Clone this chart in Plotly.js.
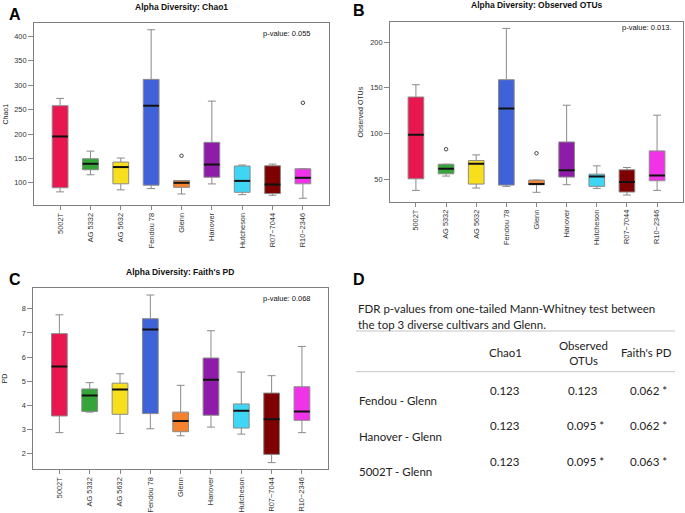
<!DOCTYPE html>
<html><head><meta charset="utf-8">
<script src="https://cdn.plot.ly/plotly-3.0.1.min.js"></script>
<style>html,body{margin:0;padding:0;background:#fff}#chart{width:685px;height:513px}</style>
</head><body><div id="chart"></div>
<script>
// ---------- data ----------
const cultivars = ['5002T','AG 5332','AG 5632','Fendou 78','Glenn','Hanover','Hutcheson','R07\u22127044','R10\u22122346'];
const colors = ['#E8174F','#35A53A','#F7DF1E','#4062D8','#F5822E','#8E1CA8','#3FD6F5','#7F0000','#F032E8'];

// Chao1
const chaoLow  = [81.5, 116.5, 85.6, 88.3, 77.2, 97.8, 75.8, 74.6, 68.4];
const chaoQ1   = [90, 126.8, 98, 95.2, 90.8, 111.5, 80.6, 78, 98];
const chaoMed  = [195, 139, 132.3, 258, 100, 137.5, 104, 96.6, 110.3];
const chaoQ3   = [258, 149.4, 142.6, 312, 104.7, 183, 134.5, 135, 128.8];
const chaoHigh = [273, 165, 150.8, 413.7, 104.7, 267.4, 136.5, 138.4, 128.8];
const chaoOutCultivar = ['Glenn','R10\u22122346'];
const chaoOutValue    = [155.5, 264];
const chaoP = 'p-value: 0.055';

// Observed OTUs
const otuLow  = [37.6, 53.3, 40.2, 42, 35.5, 43.8, 39.8, 32.5, 37.6];
const otuQ1   = [50.3, 55.8, 44.5, 43.4, 43.8, 52.2, 42, 35.8, 48.2];
const otuMed  = [98.7, 61.2, 66.7, 127.4, 44.5, 59.8, 52.9, 46.7, 54];
const otuQ3   = [140, 66.3, 70.3, 159, 48.9, 90.7, 55.4, 60.2, 80.9];
const otuHigh = [153.5, 66.3, 76.5, 215.3, 48.9, 131, 64.5, 62.7, 120.1];
const otuOutCultivar = ['AG 5332','Glenn'];
const otuOutValue    = [82.7, 78.3];
const otuP = 'p-value: 0.013.';

// Faith's PD
const pdLow  = [2.87, 3.72, 2.83, 3.03, 2.74, 3.1, 2.81, 1.63, 2.87];
const pdQ1   = [3.56, 3.75, 3.63, 3.66, 2.91, 3.59, 3.06, 1.97, 3.38];
const pdMed  = [5.61, 4.41, 4.66, 7.14, 3.35, 5.06, 3.78, 3.42, 3.75];
const pdQ3   = [6.97, 4.68, 4.92, 7.59, 3.72, 5.96, 4.06, 4.51, 4.77];
const pdHigh = [7.75, 4.94, 5.31, 8.57, 4.83, 7.09, 5.38, 5.23, 6.44];
const pdOutCultivar = [];
const pdOutValue    = [];
const pdP = 'p-value: 0.068';

// tick labels
const chaoTicks = [100, 150, 200, 250, 300, 350, 400];
const otuTicks  = [50, 100, 150, 200];
const pdTicks   = [2, 3, 4, 5, 6, 7, 8];

// Table D
const tableCaption1 = 'FDR p-values from one-tailed Mann-Whitney test between';
const tableCaption2 = 'the top 3 diverse cultivars and Glenn.';
const tableHeaders  = ['Chao1', 'Observed<br>OTUs', "Faith's PD"];
const tableRows     = ['Fendou - Glenn', 'Hanover - Glenn', '5002T - Glenn'];
const tableChao1    = ['0.123', '0.123', '0.123'];
const tableOTUs     = ['0.123', '0.095 *', '0.095 *'];
const tablePD       = ['0.062 *', '0.062 *', '0.063 *'];

// ---------- helpers ----------
const W = 685, H = 513;
const px = x => x / W;
const py = y => 1 - y / H;
const FONT = 'Liberation Sans, Arial, Helvetica, sans-serif';
const TFONT = 'Lato, Open Sans, sans-serif';

const traces = [];
const annotations = [];
const shapes = [];
const layout = {
  width: W, height: H, autosize: false,
  margin: {l: 0, r: 0, t: 0, b: 0},
  paper_bgcolor: '#fff', plot_bgcolor: '#fff',
  showlegend: false, boxmode: 'overlay',
  font: {family: FONT, color: '#222'}
};

const BOXW = 0.52;

function panel(k, low, q1, med, q3, high, outC, outV, ticks, yTitle, title, pText, box, letter, letterPos, titlePos, pPos, yTitleX) {
  const xa = 'x' + (k === 1 ? '' : k), ya = 'y' + (k === 1 ? '' : k);
  const xs = cultivars.map((c, i) => i + 1);
  cultivars.forEach((c, i) => {
    traces.push({
      type: 'box', x: [xs[i]], q1: [q1[i]], median: [med[i]], q3: [q3[i]],
      lowerfence: [low[i]], upperfence: [high[i]],
      fillcolor: colors[i], line: {color: '#8a8a8a', width: 1},
      width: BOXW, whiskerwidth: 0.5, boxpoints: false,
      xaxis: xa, yaxis: ya, hoverinfo: 'skip', name: c
    });
  });
  // medians
  const mx = [], my = [];
  med.forEach((m, i) => { mx.push(xs[i] - BOXW / 2, xs[i] + BOXW / 2, null); my.push(m, m, null); });
  traces.push({type: 'scatter', mode: 'lines', x: mx, y: my, line: {color: '#111', width: 2},
    xaxis: xa, yaxis: ya, hoverinfo: 'skip'});
  // outliers
  if (outC.length) {
    traces.push({type: 'scatter', mode: 'markers', x: outC.map(c => cultivars.indexOf(c) + 1), y: outV,
      marker: {symbol: 'circle-open', size: 3.5, color: '#444', line: {width: 1}},
      xaxis: xa, yaxis: ya, hoverinfo: 'skip'});
  }
  const all = low.concat(high, outV);
  const mn = Math.min(...all), mxv = Math.max(...all), r = mxv - mn;
  const nx = cultivars.length;
  layout['xaxis' + (k === 1 ? '' : k)] = {
    domain: [px(box[0]), px(box[1])], anchor: ya,
    range: [0.5 - 0.04 * nx, nx + 0.5 + 0.04 * nx],
    tickvals: xs, ticktext: cultivars, tickangle: -90,
    ticks: 'outside', ticklen: 4, tickcolor: '#888', tickwidth: 1,
    showline: true, mirror: true, linecolor: '#7f7f7f', linewidth: 1,
    showgrid: false, zeroline: false, fixedrange: true,
    tickfont: {family: FONT, size: 7.4, color: '#333'}
  };
  layout['yaxis' + (k === 1 ? '' : k)] = {
    domain: [py(box[3]), py(box[2])], anchor: xa,
    range: [mn - 0.04 * r, mxv + 0.04 * r],
    tickvals: ticks, ticks: 'outside', ticklen: 5, tickcolor: '#888', tickwidth: 1,
    showline: true, mirror: true, linecolor: '#7f7f7f', linewidth: 1,
    showgrid: false, zeroline: false, fixedrange: true,
    tickfont: {family: FONT, size: 7.4, color: '#333'}
  };
  annotations.push({text: '<b>' + title + '</b>', xref: 'paper', yref: 'paper',
    x: px(titlePos[0]), y: py(titlePos[1]), xanchor: 'center', yanchor: 'middle', showarrow: false,
    font: {family: FONT, size: 8.5, color: '#111'}});
  annotations.push({text: '<b>' + letter + '</b>', xref: 'paper', yref: 'paper',
    x: px(letterPos[0]), y: py(letterPos[1]), xanchor: 'center', yanchor: 'middle', showarrow: false,
    font: {family: FONT, size: 16, color: '#000'}});
  annotations.push({text: pText, xref: 'paper', yref: 'paper',
    x: px(pPos[0]), y: py(pPos[1]), xanchor: 'right', yanchor: 'middle', showarrow: false,
    font: {family: FONT, size: 7.5, color: '#111'}});
  annotations.push({text: yTitle, xref: 'paper', yref: 'paper', textangle: -90,
    x: px(yTitleX), y: py((box[2] + box[3]) / 2), xanchor: 'center', yanchor: 'middle', showarrow: false,
    font: {family: FONT, size: 7, color: '#222'}});
}

panel(1, chaoLow, chaoQ1, chaoMed, chaoQ3, chaoHigh, chaoOutCultivar, chaoOutValue, chaoTicks,
  'Chao1', 'Alpha Diversity: Chao1', chaoP, [34, 329, 23, 205], 'A', [15.3, 14.2], [181, 6.7], [313, 33.3], 4.5);
panel(2, otuLow, otuQ1, otuMed, otuQ3, otuHigh, otuOutCultivar, otuOutValue, otuTicks,
  'Observed OTUs', 'Alpha Diversity: Observed OTUs', otuP, [390, 683, 21.7, 201.7], 'B', [359, 11], [537, 4.5], [674, 27.3], 360.7);
panel(3, pdLow, pdQ1, pdMed, pdQ3, pdHigh, pdOutCultivar, pdOutValue, pdTicks,
  'PD', "Alpha Diversity: Faith's PD", pdP, [33.3, 328, 288.3, 469.3], 'C', [15.3, 279.3], [179.5, 271.7], [313, 298.3], 4.5);

// ---------- Table D ----------
annotations.push({text: '<b>D</b>', xref: 'paper', yref: 'paper', x: px(359), y: py(279),
  xanchor: 'center', yanchor: 'middle', showarrow: false, font: {family: FONT, size: 16, color: '#000'}});
const tf = {family: TFONT, size: 11.5, color: '#222'};
[[tableCaption1, 308.3], [tableCaption2, 324.3]].forEach(([t, y]) => annotations.push({
  text: t, xref: 'paper', yref: 'paper', x: px(356), y: py(y), xanchor: 'left', yanchor: 'middle',
  showarrow: false, font: tf}));
shapes.push({type: 'line', xref: 'paper', yref: 'paper', x0: px(356), x1: px(675), y0: py(331), y1: py(331),
  line: {color: '#c4c4c4', width: 1}});
shapes.push({type: 'line', xref: 'paper', yref: 'paper', x0: px(356), x1: px(675), y0: py(371.7), y1: py(371.7),
  line: {color: '#c4c4c4', width: 1}});
const colX = [505, 583, 646];
tableHeaders.forEach((h, j) => annotations.push({text: h, xref: 'paper', yref: 'paper',
  x: px(colX[j]), y: py(352.5), xanchor: 'center', yanchor: 'middle', align: 'center', showarrow: false,
  font: tf}));
const valY = [390, 425.7, 461.7], labY = [400.5, 436.7, 471.7];
tableRows.forEach((r, i) => {
  annotations.push({text: r, xref: 'paper', yref: 'paper', x: px(356.5), y: py(labY[i]),
    xanchor: 'left', yanchor: 'middle', showarrow: false, font: tf});
  [tableChao1[i], tableOTUs[i], tablePD[i]].forEach((v, j) => annotations.push({text: v,
    xref: 'paper', yref: 'paper', x: px(colX[j] + (v.indexOf('*') >= 0 ? 2 : 0)), y: py(valY[i]),
    xanchor: 'center', yanchor: 'middle', showarrow: false, font: tf}));
});

layout.annotations = annotations;
layout.shapes = shapes;
Plotly.newPlot('chart', traces, layout, {staticPlot: true, displayModeBar: false});
</script>
</body></html>
